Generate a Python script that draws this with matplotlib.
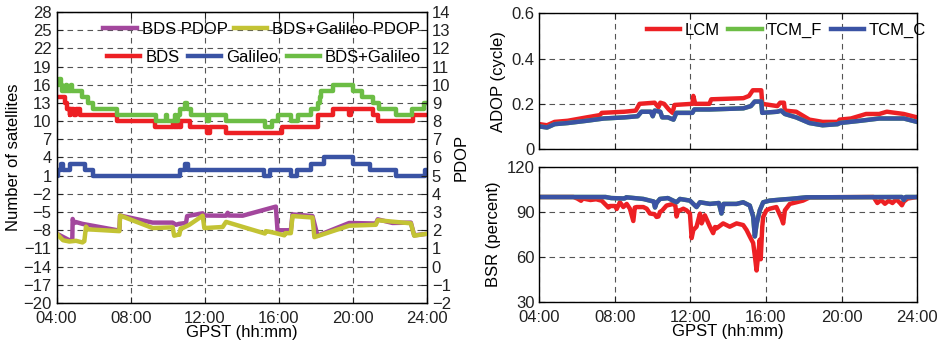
import matplotlib
matplotlib.use("Agg")
import matplotlib.pyplot as plt

plt.rcParams["font.family"] = ["Liberation Sans", "DejaVu Sans"]
plt.rcParams["font.size"] = 12

# ---- left panel: satellite numbers (step data) ----
bds_t = [4.0, 4.45, 4.55, 4.7, 4.75, 4.95, 5.05, 5.25, 7.25, 9.3, 10.3, 10.35, 10.55, 10.6,
         10.7, 11.2, 12.15, 12.3, 13.15, 16.15, 18.1, 18.95, 19.8, 19.9, 21.1, 21.35, 23.25, 24.0]
bds_n = [14, 13, 12, 11, 12, 11, 12, 11, 10, 9, 10, 9, 10, 9,
         10, 9, 8, 9, 8, 9, 11, 12, 11, 12, 11, 10, 11, 11]

gal_t = [4.0, 4.08, 4.25, 4.33, 4.75, 5.55, 5.95, 10.65, 10.95, 11.1, 15.2, 15.55, 16.65,
         17.0, 17.75, 18.45, 20.0, 20.95, 22.35, 23.9, 24.0]
gal_n = [1, 2, 3, 2, 3, 2, 1, 2, 3, 2, 1, 2, 1,
         2, 3, 4, 3, 2, 1, 2, 2]

both_t = [4.0, 4.12, 4.22, 4.3, 4.5, 4.55, 4.8, 4.85, 5.35, 5.7, 5.98, 7.25, 9.35, 9.9, 9.95,
          10.4, 10.45, 10.55, 10.65, 10.95, 11.05, 11.25, 12.15, 12.25, 13.15, 15.25, 15.65,
          15.95, 16.65, 17.05, 17.75, 18.1, 18.2, 18.3, 18.95, 20.0, 20.5, 21.1, 21.4, 22.35,
          23.2, 23.85, 24.0]
both_n = [16, 17, 16, 15, 16, 15, 16, 15, 14, 13, 12, 11, 10, 11, 10,
          11, 10, 11, 12, 13, 12, 11, 10, 11, 10, 9, 10,
          11, 10, 11, 12, 13, 14, 15, 16, 15, 14, 13, 12, 11,
          12, 13, 13]

# ---- left panel: PDOP ----
bds_pdop_t = [4.0, 4.69, 4.85, 4.87, 4.95, 5.05, 5.4, 7.39, 7.43, 9.19, 10.27, 10.45, 10.6,
              10.99, 11.05, 11.89, 11.95, 12.97, 13.15, 13.24, 13.3, 14.05, 15.84, 15.93,
              16.65, 16.74, 17.82, 18.09, 19.8, 21.24, 21.34, 22.14, 23.13, 23.31, 23.94]
bds_pdop = [1.82, 1.45, 1.5, 2.62, 2.4, 2.45, 2.35, 1.98, 2.81, 2.42, 2.42, 2.3, 2.35,
            2.4, 2.78, 2.93, 2.81, 2.8, 2.8, 2.96, 2.81, 2.8, 3.3, 2.0,
            2.0, 2.87, 2.78, 1.7, 2.4, 2.37, 2.6, 2.4, 2.42, 1.72, 1.8]

both_pdop_t = [4.0, 4.35, 4.69, 5.05, 5.4, 5.5, 5.59, 5.7, 7.39, 7.43, 9.19, 10.27, 10.35,
               10.55, 10.63, 10.7, 10.81, 11.17, 11.89, 11.98, 12.97, 13.15, 15.25, 15.3,
               15.48, 15.84, 16.3, 16.35, 16.65, 16.74, 17.82, 17.92, 19.8, 21.24, 21.34,
               23.13, 23.31, 23.94]
both_pdop = [1.82, 1.45, 1.38, 1.42, 1.33, 1.4, 2.2, 2.05, 1.95, 2.81, 2.12, 2.16, 1.7,
             1.75, 1.75, 2.1, 2.12, 2.3, 2.8, 2.12, 2.18, 2.46, 1.82, 1.95,
             1.92, 1.84, 1.72, 1.84, 1.84, 2.78, 2.7, 1.62, 2.25, 2.3, 2.55,
             2.38, 1.7, 1.8]

# ---- right top: ADOP ----
lcm_adop_t = [4.0, 4.4, 4.8, 5.5, 6.5, 7.2, 7.3, 8.5, 9.1, 9.3, 10.1, 10.3, 10.4, 10.6, 10.85,
              11.05, 11.15, 12.1, 12.15, 12.25, 13.0, 13.1, 14.8, 15.1, 15.3, 15.75, 15.8,
              16.6, 16.75, 16.95, 17.0, 17.6, 18.3, 19.0, 19.8, 19.9, 20.5, 21.3, 22.0,
              22.4, 23.3, 24.0]
lcm_adop = [0.11, 0.105, 0.12, 0.125, 0.14, 0.15, 0.16, 0.165, 0.17, 0.2, 0.205, 0.185, 0.205,
            0.2, 0.175, 0.16, 0.195, 0.2, 0.235, 0.2, 0.2, 0.22, 0.225, 0.235, 0.26, 0.26, 0.2,
            0.19, 0.205, 0.205, 0.17, 0.165, 0.13, 0.12, 0.12, 0.13, 0.135, 0.155, 0.155,
            0.165, 0.155, 0.14]

tcm_adop_t = [4.0, 4.4, 4.8, 5.5, 6.5, 7.4, 8.5, 9.2, 9.4, 9.9, 10.0, 10.1, 10.4, 10.5, 10.8,
              11.1, 11.25, 12.1, 12.2, 13.0, 14.8, 15.2, 15.4, 15.75, 15.8, 16.6, 16.8, 17.0,
              17.6, 18.3, 19.0, 19.8, 19.9, 21.0, 22.0, 23.3, 24.0]
tcm_adop = [0.1, 0.095, 0.11, 0.115, 0.125, 0.135, 0.14, 0.145, 0.165, 0.165, 0.145, 0.17,
            0.165, 0.14, 0.14, 0.13, 0.16, 0.16, 0.175, 0.175, 0.18, 0.19, 0.21, 0.21, 0.16,
            0.165, 0.17, 0.155, 0.14, 0.115, 0.105, 0.11, 0.115, 0.125, 0.135, 0.135, 0.12]

# ---- right bottom: BSR ----
lcm_bsr_t = [4.0, 5.8, 6.0, 6.2, 6.3, 6.7, 7.0, 7.3, 7.65, 7.74, 8.0, 8.09, 8.26, 8.44, 8.62,
             8.79, 8.97, 9.05, 9.15, 9.5, 9.68, 9.85, 10.1, 10.2, 10.3, 10.38, 10.5, 10.73,
             11.09, 11.2, 11.26, 11.35, 11.44, 11.62, 11.79, 11.97, 12.06, 12.15, 12.32, 12.5,
             12.59, 12.76, 13.03, 13.2, 13.3, 13.38, 13.73, 14.08, 14.44, 14.79, 14.97, 15.14,
             15.32, 15.41, 15.5, 15.58, 15.67, 15.72, 15.8, 15.85, 16.02, 16.2, 16.55, 16.82,
             16.91, 17.0, 17.26, 17.61, 17.96, 18.14, 18.32, 21.7, 21.9, 22.1, 22.3, 22.5,
             22.7, 22.9, 23.1, 23.2, 23.3, 23.5, 24.0]
lcm_bsr = [100, 100, 99, 97.5, 99, 98, 98.5, 97.5, 93, 94, 94, 92, 96.5, 93.3, 95.4,
           92.2, 84, 93, 93.3, 93.3, 92.2, 89, 88.5, 86.7, 87, 90, 91, 94.3,
           95.4, 94, 87, 91, 91.1, 92.2, 91.1, 89, 72.6, 78, 80.2, 88.9,
           82.4, 87.8, 80.2, 75.9, 80, 79.1, 82.4, 80.2, 82.4, 81.3, 78, 73.7,
           69.3, 60.7, 51, 60.7, 71.5, 58.5, 80, 86.7, 91.1, 92.2, 93.3, 85.7,
           82.4, 91.1, 95.4, 96.5, 97.6, 98.7, 99.8, 100, 96, 98, 95.5, 97.5,
           96, 98.5, 96, 94.5, 97, 99, 100]

tcm_bsr_t = [4.0, 7.5, 7.8, 8.5, 8.6, 9.5, 9.85, 10.05, 10.12, 10.2, 10.38, 10.8, 11.26, 11.44,
             11.97, 12.32, 12.5, 13.03, 13.5, 13.64, 13.75, 14.44, 14.79, 15.14, 15.32, 15.41,
             15.5, 15.67, 15.85, 16.2, 17.0, 17.26, 18.14, 23.2, 23.3, 23.4, 24.0]
tcm_bsr = [100, 100, 99.3, 99, 99.8, 98.7, 97.6, 97, 93, 96, 98.7, 99.3, 96.5, 98.7,
           97.6, 93.3, 96.5, 95.4, 96, 89, 95.4, 95.4, 96.5, 94.3, 87, 73.7,
           82, 91.1, 96.5, 97.6, 98.5, 98.7, 99.8, 100, 98, 100, 100]

x_ticks = [4, 8, 12, 16, 20, 24]
x_labels = ["04:00", "08:00", "12:00", "16:00", "20:00", "24:00"]

RED = "#ed2024"
BLUE = "#3a53a4"
GREEN = "#6cbd45"
PURPLE = "#a3479d"
OLIVE = "#c3c334"
LW = 3.2


def style_axes(ax):
    ax.set_xlim(4, 24)
    ax.set_xticks(x_ticks)
    ax.grid(True, color="#555555", linestyle=(0, (5, 4)), linewidth=0.8)
    ax.tick_params(direction="in", length=4, top=True, right=True, colors="#222222")
    ax.tick_params(axis="x", pad=6)
    for s in ax.spines.values():
        s.set_linewidth(1.0)


fig = plt.figure(figsize=(9.44, 3.46), dpi=100)

# left panel
ax = fig.add_axes([0.0599, 0.1243, 0.3924, 0.841])
ax.plot(bds_t, bds_n, color=RED, lw=LW, drawstyle="steps-post", label="BDS")
ax.plot(gal_t, gal_n, color=BLUE, lw=LW, drawstyle="steps-post", label="Galileo")
ax.plot(both_t, both_n, color=GREEN, lw=LW, drawstyle="steps-post", label="BDS+Galileo")
style_axes(ax)
ax.tick_params(right=False)
ax.set_ylim(-20, 28)
ax.set_yticks(range(-20, 29, 3))
ax.set_xticklabels(x_labels)
ax.set_ylabel("Number of satellites", labelpad=2)
ax.set_xlabel("GPST (hh:mm)", labelpad=-1)

ax2 = ax.twinx()
ax2.plot(bds_pdop_t, bds_pdop, color=PURPLE, lw=LW, label="BDS PDOP")
ax2.plot(both_pdop_t, both_pdop, color=OLIVE, lw=LW, label="BDS+Galileo PDOP")
ax2.set_ylim(-2, 14)
ax2.set_yticks(range(-2, 15))
ax2.tick_params(direction="in", length=4, colors="#222222")
ax2.set_ylabel("PDOP", labelpad=2)

leg1 = ax2.legend(loc="center left", bbox_to_anchor=(0.126, 0.94), ncol=2, frameon=False,
                  handlelength=2.0, handletextpad=0.3, columnspacing=0.4, borderpad=0,
                  borderaxespad=0, fontsize=12)
leg2 = ax2.legend(*ax.get_legend_handles_labels(), loc="center left",
                  bbox_to_anchor=(0.136, 0.845), ncol=3, frameon=False, handlelength=2.0,
                  handletextpad=0.3, columnspacing=0.5, borderpad=0, borderaxespad=0,
                  fontsize=12)
ax2.add_artist(leg1)

# right top: ADOP
axa = fig.add_axes([0.5715, 0.5694, 0.3999, 0.3916])
axa.plot(lcm_adop_t, lcm_adop, color=RED, lw=LW, label="LCM")
axa.plot(tcm_adop_t, tcm_adop, color=GREEN, lw=LW, label="TCM_F")
axa.plot(tcm_adop_t, tcm_adop, color=BLUE, lw=LW, label="TCM_C")
style_axes(axa)
axa.set_ylim(0, 0.6)
axa.set_yticks([0, 0.2, 0.4, 0.6])
axa.set_yticklabels(["0", "0.2", "0.4", "0.6"])
axa.set_xticklabels([])
axa.set_ylabel("ADOP (cycle)", labelpad=4)
axa.legend(loc="center left", bbox_to_anchor=(0.284, 0.873), ncol=3, frameon=False,
           handlelength=2.0, handletextpad=0.3, columnspacing=0.5, borderpad=0,
           borderaxespad=0, fontsize=12)

# right bottom: BSR
axb = fig.add_axes([0.5715, 0.1272, 0.3999, 0.3901])
axb.plot(lcm_bsr_t, lcm_bsr, color=RED, lw=LW)
axb.plot(tcm_bsr_t, tcm_bsr, color=GREEN, lw=LW)
axb.plot(tcm_bsr_t, tcm_bsr, color=BLUE, lw=LW)
style_axes(axb)
axb.set_ylim(30, 120)
axb.set_yticks([30, 60, 90, 120])
axb.set_xticklabels(x_labels)
axb.set_ylabel("BSR (percent)", labelpad=4)
axb.set_xlabel("GPST (hh:mm)", labelpad=-1)

fig.savefig("out.png", dpi=100)
